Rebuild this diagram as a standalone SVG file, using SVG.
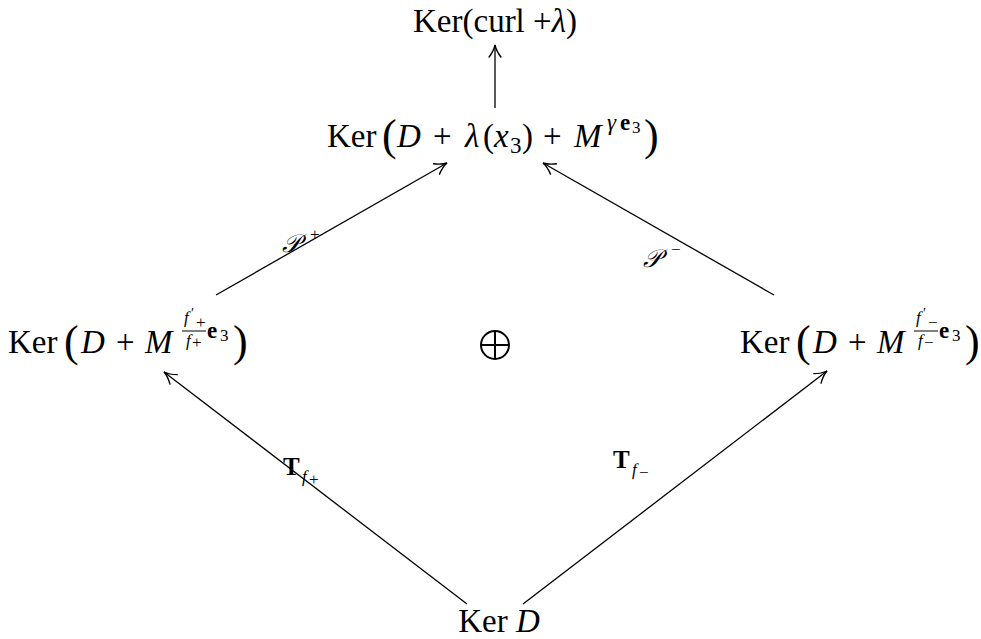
<svg xmlns="http://www.w3.org/2000/svg" width="981" height="639" viewBox="0 0 981 639">
<style>
text{font-family:"Liberation Serif","DejaVu Serif",serif;fill:#000;font-size:33px}
.i{font-style:italic}
.b{font-weight:bold}
.big{font-size:44px;font-weight:300}
.s{font-size:23px}
.ss{font-size:17px}
.pr{font-size:14px}
.lbl{font-size:25px}
.edge{stroke:#000;stroke-width:1.3;fill:none;marker-end:url(#arr)}
</style>
<defs>
<marker id="arr" markerUnits="userSpaceOnUse" markerWidth="20" markerHeight="20" refX="1" refY="0" viewBox="-12 -8 16 16" orient="auto" overflow="visible">
<path d="M -9 -5 C -5 -2 -1.5 -0.5 1 0 C -1.5 0.5 -5 2 -9 5" fill="none" stroke="#000" stroke-width="1.1"/>
</marker>
</defs>
<g id="connectors">
<line class="edge" x1="495" y1="108" x2="495" y2="45"/>
<line class="edge" x1="216" y1="295" x2="447" y2="163"/>
<line class="edge" x1="774" y1="295" x2="543" y2="163"/>
<line class="edge" x1="467" y1="604" x2="164" y2="372"/>
<line class="edge" x1="523" y1="604" x2="827" y2="371"/>
<text class="lbl" x="282" y="252"><tspan class="i">𝒫</tspan><tspan class="ss" x="310" y="240">+</tspan></text>
<text class="lbl" x="643" y="267"><tspan class="i">𝒫</tspan><tspan class="ss" x="671" y="255">−</tspan></text>
<text class="lbl" x="283" y="475"><tspan class="b">T</tspan><tspan class="i ss" x="302" y="482">f</tspan><tspan class="ss" x="309" y="485">+</tspan></text>
<text class="lbl" x="613" y="468"><tspan class="b">T</tspan><tspan class="i ss" x="632" y="475">f</tspan><tspan class="ss" x="639" y="478">−</tspan></text>
</g>
<g id="top">
<text x="495" y="32" text-anchor="middle">Ker(curl +<tspan class="i">λ</tspan>)</text>
</g>
<g id="mid">
<text x="327" y="147">Ker<tspan class="big" x="382" y="150">(</tspan><tspan class="i" x="397" y="147">D</tspan><tspan x="433">+</tspan><tspan class="i" x="465">λ</tspan><tspan x="483">(</tspan><tspan class="i" x="494">x</tspan><tspan class="s" x="510" y="153">3</tspan><tspan x="522" y="147">)</tspan><tspan x="543">+</tspan><tspan class="i" x="574">M</tspan><tspan class="s i" x="607" y="130">γ</tspan><tspan class="s b" x="620">e</tspan><tspan class="ss" x="632" y="133">3</tspan><tspan class="big" x="644" y="150">)</tspan></text>
</g>
<g id="left">
<text x="8" y="353">Ker<tspan class="big" x="64" y="356">(</tspan><tspan class="i" x="81" y="353">D</tspan><tspan x="116">+</tspan><tspan class="i" x="145">M</tspan></text>
<text class="ss" x="184" y="323"><tspan class="i">f</tspan><tspan class="pr" x="191" y="318">′</tspan><tspan x="196" y="328">+</tspan></text>
<line x1="182" y1="331" x2="206" y2="331" stroke="#000" stroke-width="1"/>
<text class="ss" x="186" y="346"><tspan class="i">f</tspan><tspan x="192" y="348">+</tspan></text>
<text class="s" x="207" y="338"><tspan class="b">e</tspan><tspan class="ss" x="220" y="341">3</tspan></text>
<text class="big" x="233" y="356">)</text>
</g>
<g id="oplus">
<circle cx="495" cy="345" r="14" fill="none" stroke="#000" stroke-width="2"/>
<line x1="481" y1="345" x2="509" y2="345" stroke="#000" stroke-width="2"/>
<line x1="495" y1="331" x2="495" y2="359" stroke="#000" stroke-width="2"/>
</g>
<g id="right">
<text x="740" y="353">Ker<tspan class="big" x="796" y="356">(</tspan><tspan class="i" x="813" y="353">D</tspan><tspan x="848">+</tspan><tspan class="i" x="877">M</tspan></text>
<text class="ss" x="916" y="323"><tspan class="i">f</tspan><tspan class="pr" x="923" y="318">′</tspan><tspan x="928" y="328">−</tspan></text>
<line x1="914" y1="331" x2="938" y2="331" stroke="#000" stroke-width="1"/>
<text class="ss" x="918" y="346"><tspan class="i">f</tspan><tspan x="924" y="348">−</tspan></text>
<text class="s" x="939" y="338"><tspan class="b">e</tspan><tspan class="ss" x="952" y="341">3</tspan></text>
<text class="big" x="965" y="356">)</text>
</g>
<g id="bottom">
<text x="499" y="632" text-anchor="middle">Ker <tspan class="i">D</tspan></text>
</g>
</svg>
